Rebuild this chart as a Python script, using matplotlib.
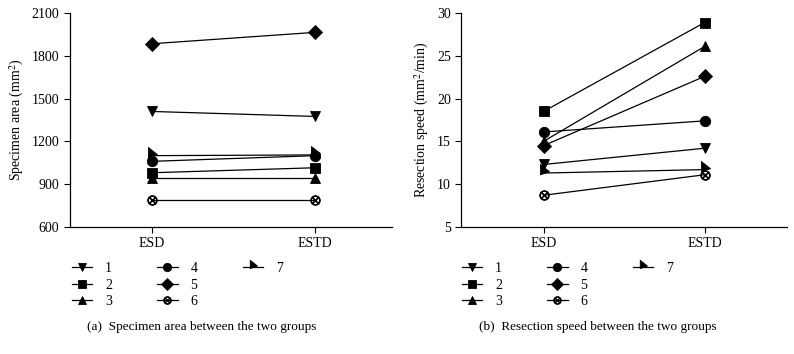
import numpy as np
import matplotlib.pyplot as plt
from matplotlib.path import Path
from matplotlib.lines import Line2D

plt.rcParams["font.family"] = ["Liberation Serif", "DejaVu Serif"]
plt.rcParams["mathtext.fontset"] = "stix"

groups = ["ESD", "ESTD"]
patients = ["1", "2", "3", "4", "5", "6", "7"]

# specimen area (mm^2), ESD vs ESTD
area_esd = [1410, 980, 945, 1060, 1885, 790, 1100]
area_estd = [1375, 1015, 945, 1100, 1965, 790, 1105]

# resection speed (mm^2/min), ESD vs ESTD
speed_esd = [12.3, 18.5, 15.0, 16.1, 14.5, 8.7, 11.3]
speed_estd = [14.2, 28.9, 26.1, 17.4, 22.6, 11.1, 11.7]

# half-raised right triangle ("flag") used for patient 7
flag = Path([(-0.45, -0.15), (-0.45, 1.0), (0.55, 0.2), (-0.45, -0.15)],
            [Path.MOVETO, Path.LINETO, Path.LINETO, Path.CLOSEPOLY])
markers = ["v", "s", "^", "o", "D", r"$\otimes$", flag]
sizes = [7.5, 7.5, 7.5, 7.5, 7.5, 7, 13]

fig = plt.figure(figsize=(7.94, 3.54), dpi=100)
ax1 = fig.add_axes([0.088, 0.359, 0.406, 0.604])
ax2 = fig.add_axes([0.581, 0.359, 0.41, 0.604])


def draw(ax, esd, estd, ylim, yticks, ylabel, xlim):
    x = np.arange(len(groups))
    for i in range(len(patients)):
        ax.plot(x, [esd[i], estd[i]], color="black", lw=0.9,
                marker=markers[i], ms=sizes[i], mfc="black", mec="black",
                mew=0.6, label=patients[i])
    ax.set_xlim(*xlim)
    ax.set_ylim(*ylim)
    ax.set_yticks(yticks)
    ax.set_xticks(x)
    ax.set_xticklabels(groups)
    ax.set_ylabel(ylabel, fontsize=10)
    ax.tick_params(labelsize=10, length=4, width=0.8, direction="out")
    for s in ["top", "right"]:
        ax.spines[s].set_visible(False)
    for s in ["left", "bottom"]:
        ax.spines[s].set_linewidth(0.9)


draw(ax1, area_esd, area_estd, (600, 2100), range(600, 2101, 300),
     "Specimen area (mm$^2$)", (-0.5, 1.47))
draw(ax2, speed_esd, speed_estd, (5, 30), range(5, 31, 5),
     "Resection speed (mm$^2$/min)", (-0.51, 1.51))

for ax, x0 in [(ax1, 66 / 794), (ax2, 456 / 794)]:
    handles, labels = ax.get_legend_handles_labels()
    blank = Line2D([], [], linestyle="none", marker="none")
    handles = handles + [blank, blank]
    labels = labels + ["", ""]
    ax.legend(handles, labels, loc="upper left", bbox_to_anchor=(x0, 0.275),
              bbox_transform=fig.transFigure, ncol=3, frameon=False,
              fontsize=10, handlelength=1.5, handletextpad=0.9,
              columnspacing=3.25, labelspacing=0.25, borderaxespad=0,
              markerscale=0.8)

fig.text(0.254, 0.076, "(a)  Specimen area between the two groups",
         ha="center", va="center", fontsize=9.5)
fig.text(0.753, 0.076, "(b)  Resection speed between the two groups",
         ha="center", va="center", fontsize=9.5)

fig.savefig("out.png", dpi=100)
